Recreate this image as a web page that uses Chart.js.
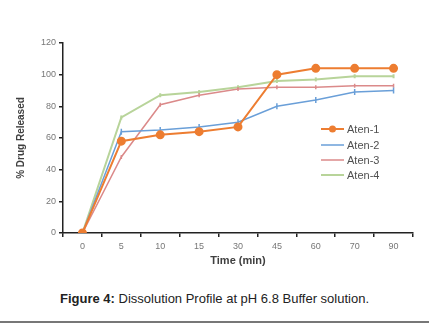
<!DOCTYPE html>
<html><head><meta charset="utf-8">
<script src="https://cdn.jsdelivr.net/npm/chart.js@4/dist/chart.umd.min.js"></script>
<style>
html,body{margin:0;padding:0;background:#fff;}
#wrap{position:relative;width:429px;height:324px;overflow:hidden;}
#c{position:absolute;left:0;top:0;}
#cap{position:absolute;left:0;width:429px;top:291px;text-align:center;font-family:"Liberation Sans",Arial,sans-serif;font-size:13px;color:#222;}
#rule{position:absolute;left:0;top:321px;width:429px;height:2px;background:#777;}
</style></head>
<body><div id="wrap"><canvas id="c" width="429" height="280"></canvas>
<div id="cap"><b>Figure 4:</b> Dissolution Profile at pH 6.8 Buffer solution.</div>
<div id="rule"></div></div>
<script>
const categories = ["0","5","10","15","30","45","60","70","90"];
const aten1 = [0,58,62,64,67,100,104,104,104];
const aten2 = [0,64,65,67,70,80,84,89,90];
const aten3 = [0,48,81,87,91,92,92,93,93];
const aten4 = [0,73,87,89,92,96,97,99,99];
const yTicks = [0,20,40,60,80,100,120];

const FONT = '"Liberation Sans", Arial, sans-serif';

const legendPlugin = {
  id:'customLegend',
  afterDraw(chart){
    const ctx = chart.ctx;
    const items = chart.data.datasets;
    const x0 = 321, x1 = 344, ys = [129,145,160,175];
    ctx.save();
    items.forEach((ds,i)=>{
      const y = ys[i];
      ctx.strokeStyle = ds.borderColor; ctx.lineWidth = ds.borderWidth;
      ctx.beginPath(); ctx.moveTo(x0,y); ctx.lineTo(x1,y); ctx.stroke();
      if (ds.pointStyle==='circle'){
        ctx.fillStyle = ds.pointBackgroundColor;
        ctx.beginPath(); ctx.arc((x0+x1)/2,y,3.5,0,Math.PI*2); ctx.fill();
      }
      ctx.fillStyle = '#505050';
      ctx.font = '11px ' + FONT;
      ctx.textBaseline = 'middle'; ctx.textAlign = 'left';
      ctx.fillText(ds.label, x1+3, y+0.5);
    });
    ctx.restore();
  }
};

new Chart(document.getElementById('c'), {
  type:'line',
  data:{
    labels: categories,
    datasets:[
      {label:'Aten-1', data:aten1, borderColor:'#ED7D31', backgroundColor:'#ED7D31', pointBackgroundColor:'#ED7D31', pointBorderColor:'#ED7D31', borderWidth:2, pointStyle:'circle', pointRadius:3.5, order:1},
      {label:'Aten-2', data:aten2, borderColor:'#6A9FD8', backgroundColor:'#6A9FD8', pointBorderColor:'#6A9FD8', borderWidth:1.5, pointStyle:'line', pointRadius:3, pointRotation:90, order:2},
      {label:'Aten-3', data:aten3, borderColor:'#DB8A8A', backgroundColor:'#DB8A8A', pointBorderColor:'#DB8A8A', borderWidth:1.5, pointStyle:'line', pointRadius:2, pointRotation:90, order:3},
      {label:'Aten-4', data:aten4, borderColor:'#B8D49A', backgroundColor:'#B8D49A', pointBorderColor:'#B8D49A', borderWidth:2, pointStyle:'line', pointRadius:2, pointRotation:90, order:4}
    ]
  },
  options:{
    responsive:false, animation:false,
    layout:{padding:{left:15,top:43,right:16,bottom:12}},
    plugins:{legend:{display:false}, tooltip:{enabled:false}},
    elements:{line:{tension:0}},
    scales:{
      x:{
        offset:true,
        grid:{display:true, offset:true, drawOnChartArea:false, drawTicks:true, tickLength:4, color:'#222', lineWidth:1.5},
        border:{display:true, color:'#222', width:1.5},
        ticks:{color:'#777', font:{size:9, family:FONT}, padding:4, maxRotation:0, autoSkip:false},
        title:{display:true, text:'Time (min)', color:'#404040', font:{size:11, weight:'bold', family:FONT}, padding:{top:3, bottom:0}},
        afterFit(s){ s.height = 35; }
      },
      y:{
        min:0, max:120,
        afterBuildTicks(s){ s.ticks = yTicks.map(v=>({value:v})); },
        grid:{display:true, drawOnChartArea:false, drawTicks:true, tickLength:4, color:'#222', lineWidth:1.5},
        border:{display:true, color:'#222', width:1.5},
        ticks:{color:'#777', font:{size:9, family:FONT}, padding:3},
        title:{display:true, text:'% Drug Released', color:'#404040', font:{size:10, weight:'bold', family:FONT}, padding:{top:0,bottom:0}},
        afterFit(s){ s.width = 48; }
      }
    }
  },
  plugins:[legendPlugin]
});
</script></body></html>
